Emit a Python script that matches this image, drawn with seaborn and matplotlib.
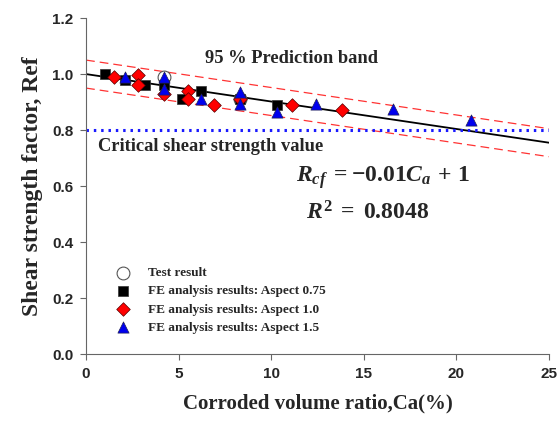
import numpy as np
import pandas as pd
import matplotlib
matplotlib.use("Agg")
import matplotlib.pyplot as plt
import seaborn as sns

# data
test_x = [4.2, 8.3]
test_y = [0.99, 0.91]

sq_x = [1.0, 2.1, 3.2, 4.2, 5.2, 6.2, 8.3, 10.3]
sq_y = [1.00, 0.98, 0.96, 0.96, 0.91, 0.94, 0.91, 0.89]

dia_x = [1.5, 2.8, 2.8, 4.2, 5.5, 5.5, 6.9, 8.3, 11.1, 13.8]
dia_y = [0.99, 0.995, 0.96, 0.93, 0.94, 0.91, 0.89, 0.91, 0.89, 0.87]

tri_x = [2.1, 4.2, 4.2, 6.2, 8.3, 8.3, 10.3, 12.4, 16.6, 20.8]
tri_y = [0.99, 0.99, 0.945, 0.91, 0.935, 0.893, 0.864, 0.893, 0.875, 0.836]

fit_x = [0, 25]
fit_y = [1.0, 0.755]
band_up = [1.05, 0.805]
band_lo = [0.95, 0.705]
critical = 0.8

sns.set_style("ticks")
plt.rcParams["mathtext.fontset"] = "custom"
plt.rcParams["mathtext.rm"] = "Liberation Serif:bold"
plt.rcParams["mathtext.it"] = "Liberation Serif:italic:bold"

fig = plt.figure(figsize=(5.59, 4.21), dpi=100)
ax = fig.add_axes([0.154, 0.159, 0.828, 0.798])

# fit line and prediction band
sns.lineplot(x=fit_x, y=fit_y, color="black", lw=1.3, ax=ax)
sns.lineplot(x=fit_x, y=band_up, color="#ff3333", lw=0.9, ax=ax)
sns.lineplot(x=fit_x, y=band_lo, color="#ff3333", lw=0.9, ax=ax)
for l in ax.lines[1:]:
    l.set_dashes([7, 4])
ax.axhline(critical, color="#1a1aff", lw=2.2, ls=(0, (0.8, 1.6)))

# points
sns.scatterplot(x=test_x, y=test_y, marker="o", s=85, facecolor="white",
                edgecolor="#555555", linewidth=0.8, ax=ax, zorder=3,
                label="Test result")
sns.scatterplot(x=sq_x, y=sq_y, marker="s", s=55, color="black",
                edgecolor="#333333", linewidth=0.5, ax=ax, zorder=4,
                label="FE analysis results: Aspect 0.75")
sns.scatterplot(x=dia_x, y=dia_y, marker="D", s=48, color="red",
                edgecolor="#550000", linewidth=0.5, ax=ax, zorder=5,
                label="FE analysis results: Aspect 1.0")
sns.scatterplot(x=tri_x, y=tri_y, marker="^", s=65, color="#0000ee",
                edgecolor="#222255", linewidth=0.5, ax=ax, zorder=6,
                label="FE analysis results: Aspect 1.5")

ax.legend(loc="lower left", bbox_to_anchor=(0.025, 0.025), frameon=False,
          prop={"family": "Liberation Serif", "weight": "bold", "size": 9.5},
          handletextpad=0.9, labelspacing=0.45, borderaxespad=0.5)

# annotations
ax.text(6.4, 1.057, "95 % Prediction band", family="Liberation Serif",
        weight="bold", fontsize=13.3, va="center")
ax.text(0.65, 0.74, "Critical shear strength value", family="Liberation Serif",
        weight="bold", fontsize=13.3, va="center")
ax.text(11.35, 0.632, r"$R_{cf}\;=-0.01C_a\,+\,1$", fontsize=17, va="center")
ax.text(11.9, 0.504, r"$R^2\;=\;0.8048$", fontsize=17, va="center")

ax.set_xlim(0, 25)
ax.set_ylim(0, 1.2)
ax.set_xticks([0, 5, 10, 15, 20, 25])
ax.set_yticks(np.arange(0, 1.21, 0.2))
ax.set_yticklabels([f"{v:.1f}" for v in np.arange(0, 1.21, 0.2)])
for t in ax.get_xticklabels() + ax.get_yticklabels():
    t.set_family("Liberation Sans")
    t.set_weight("bold")
    t.set_fontsize(11)
ax.tick_params(length=4, width=0.8, color="#666666", pad=5)
ax.set_xlabel("Corroded volume ratio,Ca(%)", family="Liberation Serif",
              weight="bold", fontsize=15, labelpad=9)
ax.set_ylabel("Shear strength factor, Ref", family="Liberation Serif",
              weight="bold", fontsize=17, labelpad=7)
sns.despine(ax=ax)
for s in ["left", "bottom"]:
    ax.spines[s].set_color("#666666")
    ax.spines[s].set_linewidth(0.8)

fig.savefig("out.png", dpi=100)
